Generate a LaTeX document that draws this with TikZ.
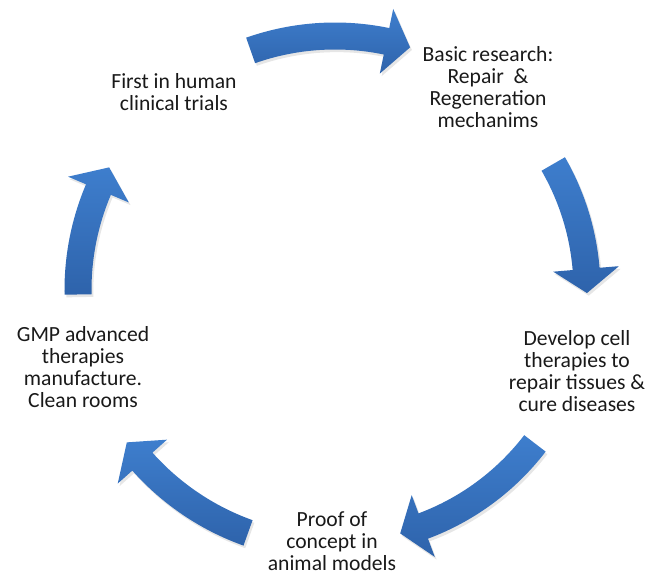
\documentclass[tikz,border=0pt]{standalone}
\usepackage{fontspec}
\setmainfont{Carlito}
\usepackage{xcolor}
\usetikzlibrary{shadows}

\definecolor{cyclelight}{RGB}{62,126,205}
\definecolor{cycledark}{RGB}{46,99,171}

\newcommand{\cyclearrow}[3]{%
  \path[arrowfill] ({#1}:{#3+13.5}) arc[start angle={#1}, end angle={#2+5.5}, radius={#3+13.5}]
    -- ({#2+5.5}:{#3+33}) -- ({#2}:{#3}) -- ({#2+5.5}:{#3-33}) -- ({#2+5.5}:{#3-13.5})
    arc[start angle={#2+5.5}, end angle={#1}, radius={#3-13.5}] -- cycle;}

\tikzset{
  arrowfill/.style={top color=cyclelight, bottom color=cycledark,
    drop shadow={opacity=0.2, shadow xshift=1pt, shadow yshift=-1.5pt}},
  lbl/.style={align=center, inner sep=1pt, text=black!90, font=\fontsize{12.3}{12.6}\selectfont}
}

\begin{document}
\begin{tikzpicture}[x=0.02cm, y=0.02cm]
            \useasboundingbox (-335,-287) rectangle (324,290);

            \node (first) at (-161,198) [lbl] {First in human\\clinical trials};
            \node (basic) at (153,203) [lbl] {Basic research:\\Repair \ \&\\Regeneration\\mechanims};
            \node (develop) at (242,-81) [lbl] {Develop cell\\therapies to\\repair tissues \&\\cure diseases};
            \node (proof) at (-3,-251) [lbl] {Proof of\\concept in\\animal models};
            \node (gmp) at (-252,-77) [lbl] {GMP advanced\\therapies\\manufacture.\\Clean rooms};

            \cyclearrow{109.4}{72.8}{254}
            \cyclearrow{30}{-0.7}{252}
            \cyclearrow{-37.5}{-75}{252}
            \cyclearrow{-109.7}{-143.8}{258}
            \cyclearrow{181}{151.5}{257}

        \end{tikzpicture}
\end{document}
